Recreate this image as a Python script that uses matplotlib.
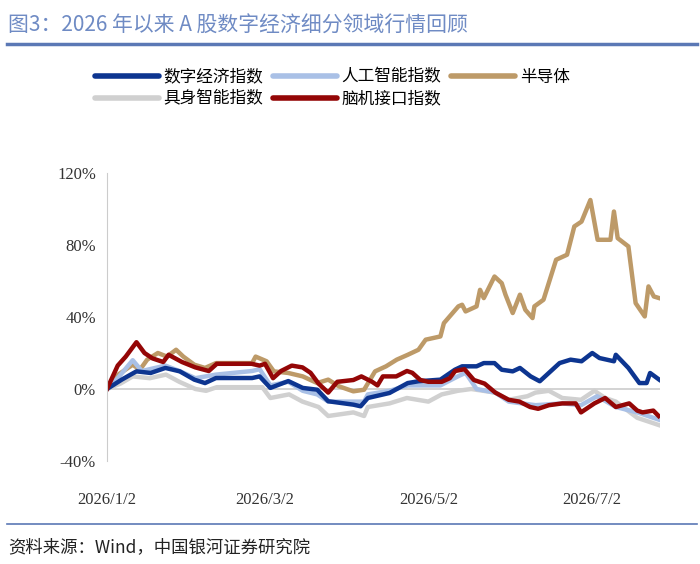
import matplotlib
matplotlib.use("Agg")
from matplotlib import pyplot as plt
from matplotlib.lines import Line2D

plt.rcParams['font.family'] = ['Noto Sans CJK SC', 'DejaVu Sans']

# x = days since 2026/1/2, y = cumulative return (%)
tick_days = [0, 59, 120, 181]
tick_labels = ["2026/1/2", "2026/3/2", "2026/5/2", "2026/7/2"]

semi_x = [0, 4.2, 9.6, 12.3, 15, 19, 22.4, 25.8, 28.5, 32.6, 36.6, 40.7, 44.7, 54.2, 55.5, 59.6, 62.3, 67.7,
          73.1, 78.5, 82.6, 86.6, 92, 96, 100.1, 104.2, 108.2, 112.3, 116.3, 119, 124.5, 125.8, 131.2, 132.6,
          133.9, 138, 139.3, 140.7, 144.7, 147.4, 148.8, 151.5, 154.2, 156.2, 158.9, 159.6, 163, 167.7, 171.8,
          174.5, 177.2, 180.5, 183.2, 188, 189.3, 190.7, 194.7, 197.4, 200.8, 202.2, 204.2, 206.2]
semi_y = [0, 8, 13.5, 10.7, 16.3, 20, 18, 21.8, 18, 13.5, 11.7, 14.4, 14.4, 14.4, 18, 15.4, 9.8, 8.9,
          7, 3.3, 5.2, 1.5, -1.3, -0.4, 9.8, 12.6, 16.3, 19, 21.8, 27.4, 29.2, 36.6, 45.9, 46.8,
          43.1, 45.9, 55.1, 50.5, 62.5, 58.8, 52.4, 42.2, 52.4, 44, 39.4, 45.9, 49.6, 71.8, 74.6,
          90.3, 93, 105, 82.9, 82.9, 98.6, 83.8, 79.2, 47.7, 40.3, 57, 51.4, 50.5]

dig_x = [0, 5.5, 11, 16.3, 21.8, 27.2, 32.6, 36.6, 40.7, 54.2, 57, 61, 67.7, 73.1, 78.5, 82.6, 92, 94.7, 97.4,
         105.5, 112.3, 116.3, 124.5, 129.9, 132.6, 138, 140.7, 144.7, 147.4, 151.5, 154.2, 158.2, 161.6, 169,
         173.1, 177.2, 181.2, 183.9, 189.3, 190, 194.7, 198.8, 201.5, 202.8, 206.2]
dig_y = [0, 5.2, 9.8, 8.9, 11.7, 9.8, 5.2, 3.3, 6.1, 6.1, 7, 0.6, 4.4, 0.6, -0.4, -6.8, -8.7, -9.6, -5,
         -2.2, 3.3, 4.3, 5.2, 10.7, 12.6, 12.6, 14.4, 14.4, 10.7, 9.8, 11.7, 7, 4.3, 14.4,
         16.3, 15.4, 20, 17.2, 15.4, 19, 11.7, 3.3, 3.3, 8.9, 5.2]

ai_x = [0, 4, 9.6, 13, 21.8, 27, 33, 40.7, 54.2, 57, 61, 67.7, 73.1, 78.5, 82.6, 92, 96, 97.4, 105.5, 112.3,
        124.5, 131, 133.9, 138, 145, 150, 160, 170, 177, 183, 190, 198, 206]
ai_y = [0, 6, 16, 10, 13, 10, 6, 8, 10, 11, 2, 4, -1, -3, -7, -7, -7, -3, -1, 2,
        2, 7, 9, 0, -2, -7, -9, -8, -9, -4, -10, -13, -17]

emb_x = [0, 5, 9.6, 16, 22, 27, 33, 37, 41, 54, 58, 61, 68, 73, 79, 82.6, 92, 96, 97.4, 105.5, 112, 120,
         125, 131, 136, 145, 150, 157, 160, 165, 170, 177, 182, 186, 190, 198, 206]
emb_y = [0, 3, 7, 6, 8, 4, 0, -1, 1, 1, 1, -5, -3, -7, -10, -15, -13, -15, -10, -8, -5, -7,
         -3, -1, 0, -2, -6, -4, -2, -1, -5, -6, -1, -5, -7, -16, -20]

bci_x = [0, 4, 7, 11, 14, 17, 21, 23, 28, 33, 38, 41, 45, 54, 57, 59, 62, 65, 69, 73, 76, 79, 82.6, 86, 92,
         95, 99, 101, 103, 108, 112, 114, 117, 120, 125, 128, 130, 133.5, 137, 141, 145, 150, 154, 158, 161,
         165, 170, 175, 177, 182, 186, 190, 195, 198, 200, 204, 206]
bci_y = [0, 13, 18, 26, 20, 17, 15, 19, 15, 12, 10, 14, 14, 14, 13, 14, 6, 10, 13, 12, 9, 3, -2, 4, 5,
         7, 4, 2, 7, 7, 10, 9, 5, 4, 4, 6, 10, 11, 5, 3, -2, -6, -7, -10, -11,
         -9, -8, -8, -13, -8, -5, -10, -8, -12, -13, -12, -15]

c_dig, c_ai, c_semi, c_emb, c_bci = "#0d3590", "#a9c0e6", "#bd9a68", "#d0d0d0", "#940606"

fig = plt.figure(figsize=(7, 5.64), dpi=100)
ax = fig.add_axes([107 / 700, 1 - 461 / 564, 553 / 700, 288 / 564])

lw = 3.2
ax.plot(semi_x, semi_y, color=c_semi, lw=lw)
ax.plot(emb_x, emb_y, color=c_emb, lw=lw)
ax.plot(ai_x, ai_y, color=c_ai, lw=lw)
ax.plot(dig_x, dig_y, color=c_dig, lw=lw)
ax.plot(bci_x, bci_y, color=c_bci, lw=lw)
ax.axhline(0, color="#cccccc", lw=1.2, zorder=0)

ax.set_xlim(0, 206.5)
ax.set_ylim(-40, 120)
ax.set_yticks([-40, 0, 40, 80, 120])
ax.set_yticklabels(["-40%", "0%", "40%", "80%", "120%"])
ax.set_xticks(tick_days)
ax.set_xticklabels(tick_labels)
for s in ["top", "right", "bottom"]:
    ax.spines[s].set_visible(False)
ax.spines["left"].set_color("#cccccc")
ax.tick_params(axis="both", length=0, labelsize=12, colors="#333333", pad=8)
ax.tick_params(axis="x", pad=22)
for t in ax.get_xticklabels() + ax.get_yticklabels():
    t.set_family("Liberation Serif")

handles = [Line2D([], [], color=c, lw=4, solid_capstyle="round") for c in [c_dig, c_emb, c_ai, c_bci, c_semi]]
labels = ["数字经济指数", "具身智能指数", "人工智能指数", "脑机接口指数", "半导体"]
fig.legend(handles, labels, ncol=3, loc="upper center", bbox_to_anchor=(0.475, 0.905), frameon=False,
           fontsize=12, handlelength=3.8, handletextpad=0.3, columnspacing=0.6, labelspacing=0.3)

fig.text(0.012, 0.955, "图3：2026 年以来 A 股数字经济细分领域行情回顾", fontsize=15, color="#6f8bc4", va="center")
fig.add_artist(Line2D([0.01, 0.995], [1 - 44 / 564] * 2, color="#5b78b5", lw=2.5))
fig.add_artist(Line2D([0.01, 0.995], [1 - 524 / 564] * 2, color="#5b78b5", lw=1.2))
fig.text(0.012, 1 - 547 / 564, "资料来源：Wind，中国银河证券研究院", fontsize=12.5, color="#222222",
         va="center", style="italic")

fig.savefig("out.png")
